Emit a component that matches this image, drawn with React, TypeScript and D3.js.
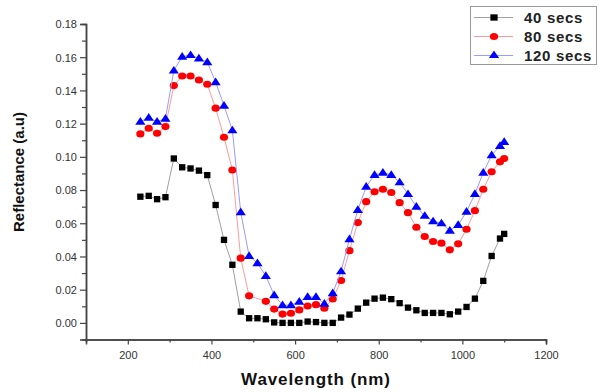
import React, { useEffect, useRef } from 'react'
import * as d3 from 'd3'

// wavelength (nm) of each sample
const wavelengths = [
  230, 250, 270, 290, 310, 330, 350, 370, 390, 410, 430, 450, 470, 490, 510,
  530, 550, 570, 590, 610, 630, 650, 670, 690, 710, 730, 750, 770, 790, 810,
  830, 850, 870, 890, 910, 930, 950, 970, 990, 1010, 1030, 1050, 1070, 1090,
  1100,
]

const secs40 = [
  0.076, 0.0765, 0.0745, 0.0757, 0.099, 0.0937, 0.093, 0.0917, 0.089, 0.071,
  0.05, 0.035, 0.0068, 0.0028, 0.0028, 0.0022, 0.0003, 0.0, 0.0, 0.0, 0.0008,
  0.0005, 0.0, 0.0, 0.0032, 0.005, 0.0086, 0.0122, 0.0146, 0.0152, 0.0143,
  0.0119, 0.0092, 0.0076, 0.006, 0.006, 0.006, 0.0052, 0.0068, 0.0096, 0.0146,
  0.0253, 0.0403, 0.0508, 0.0536,
]

const secs80 = [
  0.1138, 0.1172, 0.1142, 0.1182, 0.1429, 0.1487, 0.1487, 0.1463, 0.1437,
  0.1293, 0.1118, 0.0921, 0.039, 0.0163, null, 0.013, 0.0083, 0.0053, 0.0058,
  0.0078, 0.0102, 0.011, 0.0088, 0.0144, 0.0255, 0.0435, 0.0604, 0.073, 0.079,
  0.0805, 0.0785, 0.0724, 0.0664, 0.0576, 0.052, 0.049, 0.048, 0.044, 0.0476,
  0.0564, 0.0676, 0.0805, 0.091, 0.097, 0.099,
]

const secs120 = [
  0.1212, 0.1236, 0.1212, 0.123, 0.152, 0.1603, 0.1613, 0.1593, 0.157, 0.145,
  0.1308, 0.116, 0.0667, 0.0403, 0.036, 0.0283, 0.0167, 0.0107, 0.0107, 0.0128,
  0.0156, 0.0156, 0.0116, 0.0179, 0.0311, 0.0504, 0.068, 0.082, 0.0891, 0.0905,
  0.0891, 0.0847, 0.0776, 0.07, 0.0645, 0.0612, 0.06, 0.0556, 0.059, 0.067,
  0.0777, 0.0905, 0.101, 0.1066, 0.109,
]

const seriesNames = ['40 secs', '80 secs', '120 secs']
const xTicks = [200, 400, 600, 800, 1000, 1200]
const yTicks = [0, 0.02, 0.04, 0.06, 0.08, 0.1, 0.12, 0.14, 0.16, 0.18]

const App = () => {
  const svgRef = useRef<SVGSVGElement>(null)

  useEffect(() => {
    const width = 600
    const height = 392
    const left = 86,
      right = 546,
      top = 24,
      bottom = 339.5
    const font = 'Arial, "Liberation Sans", sans-serif'
    const axisColor = '#444'

    const svg = d3.select(svgRef.current)
    svg.selectAll('*').remove()
    svg.attr('width', width).attr('height', height)

    const x = d3.scaleLinear().domain([100, 1200]).range([left, right])
    const y = d3.scaleLinear().domain([-0.01, 0.18]).range([bottom, top])

    const series = [
      { name: seriesNames[0], values: secs40, fill: '#000', line: '#a0a0a0', shape: d3.symbolSquare, size: 40 },
      { name: seriesNames[1], values: secs80, fill: '#ff0000', line: '#ff9a9a', shape: d3.symbolCircle, size: 40 },
      { name: seriesNames[2], values: secs120, fill: '#0000ff', line: '#9a9aff', shape: d3.symbolTriangle, size: 34 },
    ]

    // axes
    const xAxis = d3
      .axisBottom(x)
      .tickValues(xTicks)
      .tickSize(5)
      .tickFormat((d) => String(d))
    const xMinor = d3
      .axisBottom(x)
      .tickValues(d3.range(100, 1201, 100).filter((v) => v % 200 !== 0))
      .tickSize(3)
      .tickFormat(() => '')
    const yAxis = d3
      .axisLeft(y)
      .tickValues(yTicks)
      .tickSize(6)
      .tickFormat(d3.format('.2f'))
    const yMinor = d3
      .axisLeft(y)
      .tickValues(d3.range(0.01, 0.18, 0.02))
      .tickSize(4)
      .tickFormat(() => '')

    const styleAxis = (g) => {
      g.select('.domain').attr('stroke', axisColor).attr('stroke-width', 1.5)
      g.selectAll('.tick line').attr('stroke', axisColor).attr('stroke-width', 1.2)
      g.selectAll('.tick text')
        .attr('fill', '#333')
        .style('font-family', font)
        .style('font-size', '11px')
    }

    svg.append('g').attr('transform', `translate(0,${bottom})`).call(xMinor).call(styleAxis)
    svg.append('g').attr('transform', `translate(0,${bottom})`).call(xAxis).call(styleAxis)
      .selectAll('.tick text').attr('dy', '1.0em')
    svg.append('g').attr('transform', `translate(${left},0)`).call(yMinor).call(styleAxis)
    svg.append('g').attr('transform', `translate(${left},0)`).call(yAxis).call(styleAxis)
      .selectAll('.tick text').attr('x', -9).attr('dy', '0.35em')

    // axis titles
    svg.append('text')
      .attr('x', (left + right) / 2)
      .attr('y', 385)
      .attr('text-anchor', 'middle')
      .style('font-family', font)
      .style('font-weight', 'bold')
      .style('font-size', '17px')
      .style('letter-spacing', '0.9px')
      .attr('fill', '#111')
      .text('Wavelength (nm)')

    svg.append('text')
      .attr('transform', 'rotate(-90)')
      .attr('x', -172)
      .attr('y', 24)
      .attr('text-anchor', 'middle')
      .style('font-family', font)
      .style('font-weight', 'bold')
      .style('font-size', '15px')
      .attr('fill', '#111')
      .text('Reflectance (a.u)')

    // series
    series.forEach((s) => {
      const pts = wavelengths
        .map((w, i) => [w, s.values[i]])
        .filter((p) => p[1] !== null) as [number, number][]
      const line = d3
        .line<[number, number]>()
        .x((d) => x(d[0]))
        .y((d) => y(d[1]))
      svg.append('path')
        .datum(pts)
        .attr('d', line)
        .attr('fill', 'none')
        .attr('stroke', s.line)
        .attr('stroke-width', 1)
      const sym = d3.symbol().type(s.shape).size(s.size)
      svg.append('g')
        .selectAll('path')
        .data(pts)
        .enter()
        .append('path')
        .attr('d', sym)
        .attr('transform', (d) =>
          s.shape === d3.symbolTriangle
            ? `translate(${x(d[0])},${y(d[1]) + 0.5}) scale(1.15,1)`
            : s.shape === d3.symbolCircle
              ? `translate(${x(d[0])},${y(d[1])}) scale(1.15,1)`
              : `translate(${x(d[0])},${y(d[1])})`
        )
        .attr('fill', s.fill)
    })

    // legend
    const lg = svg.append('g')
    lg.append('rect')
      .attr('x', 470.5)
      .attr('y', 6.5)
      .attr('width', 126)
      .attr('height', 58)
      .attr('fill', '#fff')
      .attr('stroke', '#999')
      .attr('stroke-width', 1)
    series.forEach((s, i) => {
      const cy = 17.5 + i * 19
      lg.append('line')
        .attr('x1', 474)
        .attr('x2', 513)
        .attr('y1', cy)
        .attr('y2', cy)
        .attr('stroke', s.line)
        .attr('stroke-width', 1)
      lg.append('path')
        .attr('d', d3.symbol().type(s.shape).size(s.size)())
        .attr('transform', `translate(494,${cy}) scale(1.15,1)`)
        .attr('fill', s.fill)
      lg.append('text')
        .attr('x', 524)
        .attr('y', cy + 5)
        .style('font-family', font)
        .style('font-weight', 'bold')
        .style('font-size', '15px')
        .style('letter-spacing', '0.7px')
        .attr('fill', '#222')
        .text(s.name)
    })
  }, [])

  return (
    <svg
      ref={svgRef}
      style={{ position: 'absolute', left: 0, top: 0, display: 'block', background: '#fff' }}
    ></svg>
  )
}

export default App
